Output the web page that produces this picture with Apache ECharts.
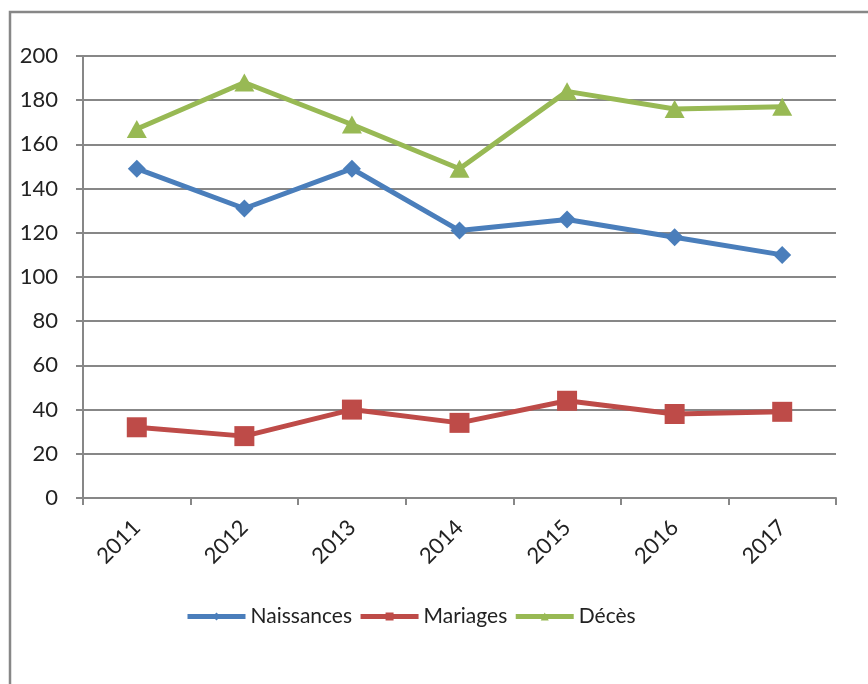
<!DOCTYPE html>
<html>
<head>
<meta charset="utf-8">
<script src="https://cdn.jsdelivr.net/npm/echarts@6/dist/echarts.min.js"></script>
<style>
html,body{margin:0;padding:0;background:#fff;}
#chart{width:868px;height:684px;}
</style>
</head>
<body>
<div id="chart"></div>
<script>
const categories = ['2011', '2012', '2013', '2014', '2015', '2016', '2017'];
const naissances = [149, 131, 149, 121, 126, 118, 110];
const mariages = [32, 28, 40, 34, 44, 38, 39];
const deces = [167, 188, 169, 149, 184, 176, 177];
const seriesNames = ['Naissances', 'Mariages', 'Décès'];
const yTicks = { min: 0, max: 200, interval: 20 };

const FONT = 'Lato, "Liberation Sans", sans-serif';
const GRAY = '#878787';

const chart = echarts.init(document.getElementById('chart'), null, { renderer: 'canvas' });
chart.setOption({
  animation: false,
  backgroundColor: '#ffffff',
  graphic: [{
    type: 'rect',
    shape: { x: 10, y: 12, width: 900, height: 720 },
    style: { fill: 'none', stroke: GRAY, lineWidth: 2.5 },
    silent: true, z: -1
  }],
  grid: { left: 83, right: 32, top: 56, bottom: 186, containLabel: false },
  legend: {
    left: 180, top: 601,
    itemWidth: 58, itemHeight: 10, itemGap: 6,
    lineStyle: { width: 5 },
    textStyle: { fontFamily: FONT, fontSize: 21, color: '#222' },
    data: seriesNames
  },
  xAxis: {
    type: 'category',
    data: categories,
    boundaryGap: true,
    axisLine: { lineStyle: { color: GRAY, width: 2 } },
    axisTick: { show: true, length: 7, lineStyle: { color: GRAY, width: 2 } },
    axisLabel: { rotate: 45, margin: 26, fontFamily: FONT, fontSize: 22, color: '#222' }
  },
  yAxis: {
    type: 'value',
    min: yTicks.min, max: yTicks.max, interval: yTicks.interval,
    axisLine: { show: true, lineStyle: { color: GRAY, width: 2 } },
    axisTick: { show: true, length: 7, lineStyle: { color: GRAY, width: 2 } },
    axisLabel: { margin: 25, fontFamily: FONT, fontSize: 22, color: '#222' },
    splitLine: { lineStyle: { color: GRAY, width: 2 } }
  },
  series: [
    { name: seriesNames[0], type: 'line', data: naissances, color: '#4a7ebb',
      lineStyle: { width: 5, color: '#4a7ebb' }, symbol: 'diamond', symbolSize: 18,
      itemStyle: { color: '#4a7ebb' } },
    { name: seriesNames[1], type: 'line', data: mariages, color: '#be4b48',
      lineStyle: { width: 5, color: '#be4b48' }, symbol: 'rect', symbolSize: 20,
      itemStyle: { color: '#be4b48' } },
    { name: seriesNames[2], type: 'line', data: deces, color: '#98b954',
      lineStyle: { width: 5, color: '#98b954' }, symbol: 'triangle', symbolSize: [20, 18],
      itemStyle: { color: '#98b954' } }
  ]
});
</script>
</body>
</html>
